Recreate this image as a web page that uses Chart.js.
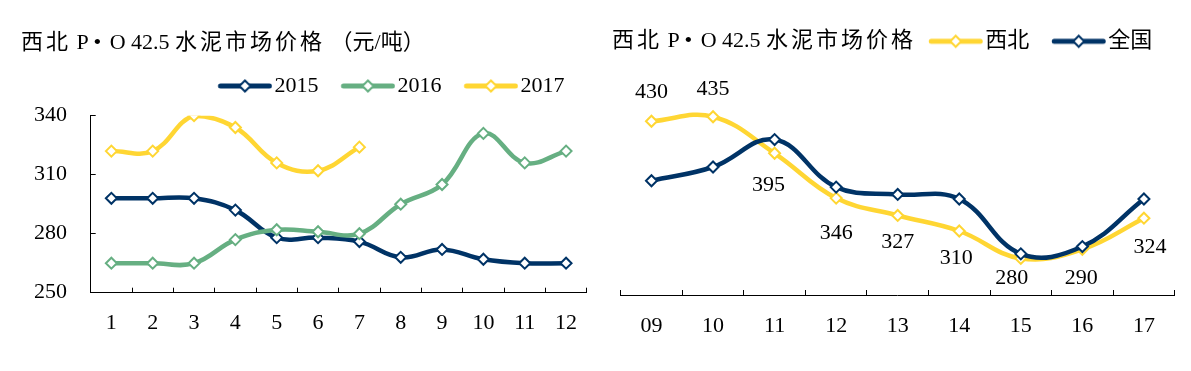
<!DOCTYPE html>
<html><head><meta charset="utf-8">
<script src="https://cdn.jsdelivr.net/npm/chart.js@4/dist/chart.umd.min.js"></script>
<style>
html,body{margin:0;padding:0;background:#fff;width:1191px;height:371px;overflow:hidden}
#w{position:relative;width:1191px;height:371px}
#c1{position:absolute;left:0;top:0}
#c2{position:absolute;left:600px;top:0}
.t{position:absolute;font-family:"Liberation Serif","Noto Sans CJK SC",serif;font-size:22px;color:#000;white-space:nowrap;line-height:22px}
.t .c{letter-spacing:3px}
.t .g{margin-left:3px}
</style></head><body>
<div id="w">
<canvas id="c1" width="600" height="371"></canvas>
<canvas id="c2" width="591" height="371"></canvas>
<div class="t" style="left:21px;top:31px"><span class="c">西北</span> P •<span class="g"> </span>O 42.5 <span class="c">水泥市场价格</span> （元/吨）</div>
<div class="t" style="left:612px;top:29px"><span class="c">西北</span> P •<span class="g"> </span>O 42.5 <span class="c">水泥市场价格</span></div>
</div>
<script>
// ---- data ----
const months = ['1','2','3','4','5','6','7','8','9','10','11','12'];
const price2015 = [298,298,298,292,278,278,276,268,272,267,265,265];
const price2016 = [265,265,265,277,282,281,280,295,305,331,316,322];
const price2017 = [322,322,340,334,316,312,324];
const leftYTicks = [250,280,310,340];

const years = ['09','10','11','12','13','14','15','16','17'];
const northwest = [430,435,395,346,327,310,280,290,324];
const national = [365,380,410,358,350,345,285,293,345];

// ---- styles ----
const FONT = '"Liberation Serif", "Noto Sans CJK SC", serif';
const NAVY = '#003366', GREEN = '#66AF82', YELLOW = '#FFD633';
const labelShift = [[0,-29],[0,-27],[-6,32],[0,35],[0,27],[-3,27],[-9,20],[-1,29],[6,29]];

function swatch(color){
  const W=63,H=16,c=document.createElement('canvas'); c.width=W; c.height=H;
  const g=c.getContext('2d');
  const x0=8.75,x1=62.75,cy=H/2,cx=(x0+x1)/2;
  g.strokeStyle=color; g.lineWidth=5; g.lineCap='round';
  g.beginPath(); g.moveTo(x0+2.5,cy); g.lineTo(x1-2.5,cy); g.stroke();
  g.beginPath(); g.moveTo(cx,cy-5.5); g.lineTo(cx+5.5,cy); g.lineTo(cx,cy+5.5); g.lineTo(cx-5.5,cy); g.closePath();
  g.fillStyle='#fff'; g.fill(); g.lineWidth=2; g.lineCap='butt'; g.stroke();
  return c;
}

function legendOpts(colors){
  const sw = colors.map(swatch);
  return {
    display:true, position:'top', align:'end',
    labels:{
      usePointStyle:true, pointStyleWidth:45.5, boxHeight:16, padding:22.5,
      color:'#000', font:{family:FONT, size:22},
      sort:(a,b)=>a.datasetIndex-b.datasetIndex,
      generateLabels(chart){
        const items = Chart.defaults.plugins.legend.labels.generateLabels(chart);
        items.forEach(it=>{ it.pointStyle = sw[it.datasetIndex]; });
        return items;
      }
    }
  };
}
// empty box placed between legend and plot area, used only as vertical spacing
function spacer(h){
  return {display:true, text:'', position:'top', weight:500, padding:0, font:{size:h, lineHeight:1}};
}

function ds(label, data, color, order){
  return {label, data, borderColor:color, backgroundColor:color, borderWidth:4.5,
    tension:0.4, order, pointStyle:'rectRot', pointRadius:5.5, pointBorderWidth:2,
    pointBackgroundColor:'#fff', pointBorderColor:color, pointHoverRadius:5.5};
}

const tickFont = {family:FONT, size:22};

// ---- left chart ----
new Chart(document.getElementById('c1'), {
  type:'line',
  data:{ labels:months, datasets:[
    ds('2015', price2015, NAVY, 3),
    ds('2016', price2016, GREEN, 2),
    ds('2017', price2017, YELLOW, 1)
  ]},
  options:{
    responsive:false, animation:false, devicePixelRatio:1,
    layout:{padding:{top:52.5,left:0,right:13,bottom:0}},
    plugins:{ legend:legendOpts([NAVY,GREEN,YELLOW]), subtitle:spacer(8.7), tooltip:{enabled:false} },
    scales:{
      x:{ offset:true,
        grid:{display:true, drawOnChartArea:false, offset:true, tickLength:-5, color:'#000', lineWidth:1},
        border:{display:true, color:'#000', width:1},
        ticks:{font:tickFont, color:'#000', padding:22.4, maxRotation:0, autoSkip:false},
        afterFit(s){ s.height = 371 - 292.7; }
      },
      y:{ min:250, max:340,
        afterBuildTicks(s){ s.ticks = leftYTicks.map(v=>({value:v})); },
        grid:{display:true, drawOnChartArea:false, tickLength:-5, color:'#000', lineWidth:1},
        border:{display:true, color:'#000', width:1},
        ticks:{font:tickFont, color:'#000', padding:28.7},
        afterFit(s){ s.width = 90.7; }
      }
    }
  }
});

// ---- right chart ----
const valueLabels = {
  id:'valueLabels',
  afterDatasetsDraw(chart){
    const ctx = chart.ctx, meta = chart.getDatasetMeta(0), vals = chart.data.datasets[0].data;
    ctx.save();
    ctx.font = '22px ' + FONT; ctx.fillStyle = '#000';
    ctx.textAlign = 'center'; ctx.textBaseline = 'middle';
    meta.data.forEach((p,i)=>{
      ctx.fillText(String(vals[i]), p.x + labelShift[i][0], p.y + labelShift[i][1]);
    });
    ctx.restore();
  }
};

new Chart(document.getElementById('c2'), {
  type:'line',
  data:{ labels:years, datasets:[
    ds('西北', northwest, YELLOW, 2),
    ds('全国', national, NAVY, 1)
  ]},
  options:{
    responsive:false, animation:false, devicePixelRatio:1,
    layout:{padding:{top:7.8,left:0,right:16.3,bottom:0}},
    plugins:{ legend:legendOpts([YELLOW,NAVY]), subtitle:spacer(40.7), tooltip:{enabled:false} },
    scales:{
      x:{ offset:true,
        grid:{display:true, drawOnChartArea:false, offset:true, tickLength:-5, color:'#000', lineWidth:1},
        border:{display:true, color:'#000', width:1},
        ticks:{font:tickFont, color:'#000', padding:22.8, maxRotation:0, autoSkip:false},
        afterFit(s){ s.height = 371 - 295; }
      },
      y:{ min:240, max:450,
        grid:{display:false}, border:{display:false}, ticks:{display:false},
        afterFit(s){ s.width = 20.7; }
      }
    }
  },
  plugins:[valueLabels]
});
</script>
</body></html>
